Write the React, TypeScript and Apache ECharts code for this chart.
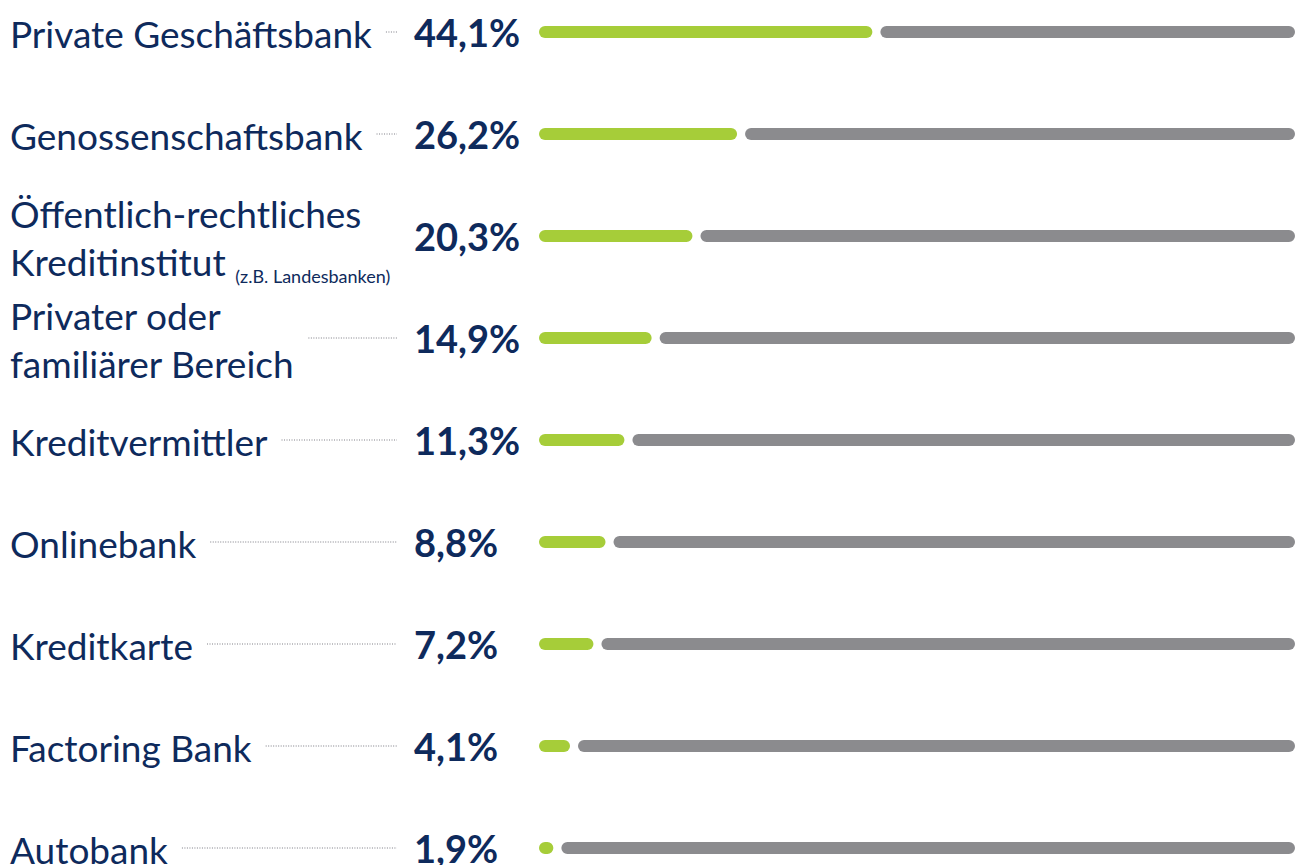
import React, { useEffect, useRef } from "react";
import * as echarts from "echarts";

const categories = [
  "Private Geschäftsbank",
  "Genossenschaftsbank",
  "Öffentlich-rechtliches\nKreditinstitut",
  "Privater oder\nfamiliärer Bereich",
  "Kreditvermittler",
  "Onlinebank",
  "Kreditkarte",
  "Factoring Bank",
  "Autobank",
];
const notes = ["", "", "(z.B. Landesbanken)", "", "", "", "", "", ""];
const values = [44.1, 26.2, 20.3, 14.9, 11.3, 8.8, 7.2, 4.1, 1.9];
const showLeader = [true, true, false, true, true, true, true, true, true];

const NAVY = "#0e2a5c";
const GREEN = "#a6cd39";
const GRAY = "#8b8b8e";
const FONT = "Lato";
const LABEL_SIZE = 37;
const NOTE_SIZE = 18;
const VALUE_SIZE = 38;

function measure(text: string, size: number, weight = "normal"): number {
  const c = document.createElement("canvas");
  const ctx = c.getContext("2d")!;
  ctx.font = `${weight} ${size}px ${FONT}`;
  return ctx.measureText(text).width;
}

export default function App() {
  const ref = useRef<HTMLDivElement>(null);
  useEffect(() => {
    const chart = echarts.init(ref.current!, null, { renderer: "svg" });
    const labelWidths = categories.map((c, i) => {
      const lines = c.split("\n");
      return Math.max(
        ...lines.map((l, j) =>
          measure(l, LABEL_SIZE) +
          (j === lines.length - 1 && notes[i] ? 8 + measure(notes[i], NOTE_SIZE) : 0)
        )
      );
    });
    const fmt = (v: number) => v.toFixed(1).replace(".", ",") + "%";

    chart.setOption({
      animation: false,
      grid: { left: 539, right: 5, top: 32, bottom: 17 },
      xAxis: { type: "value", min: 0, max: 100, show: false },
      yAxis: {
        type: "category",
        data: categories,
        inverse: true,
        boundaryGap: false,
        show: false,
      },
      series: [
        {
          type: "custom",
          clip: false,
          data: values.map((v, i) => [v, i]),
          renderItem: (params: any, api: any) => {
            const v = api.value(0);
            const i = api.value(1);
            const [x0, y] = api.coord([0, i]);
            const xv = api.coord([v, i])[0];
            const x100 = api.coord([100, i])[0];
            const h = 12;
            const gw = Math.max(xv - x0, h);
            const children: any[] = [
              {
                type: "rect",
                shape: { x: x0, y: y - h / 2, width: gw, height: h, r: h / 2 },
                style: { fill: GREEN },
              },
              {
                type: "rect",
                shape: { x: x0 + gw + 8, y: y - h / 2, width: x100 - (x0 + gw + 8), height: h, r: h / 2 },
                style: { fill: GRAY },
              },
            ];
            const lines = categories[i].split("\n");
            const txt = lines
              .map((l, j) => (j === lines.length - 1 && notes[i] ? `${l} {n|${notes[i]}}` : l))
              .join("\n");
            children.push({
              type: "text",
              x: 10,
              y: y + 1,
              style: {
                text: txt,
                fill: NAVY,
                fontFamily: FONT,
                fontSize: LABEL_SIZE,
                lineHeight: 48,
                verticalAlign: "middle",
                align: "left",
                rich: {
                  n: { fontSize: NOTE_SIZE, fontFamily: FONT, fill: NAVY, verticalAlign: "bottom", lineHeight: 46 },
                },
              },
            });
            if (showLeader[i]) {
              const start = 10 + labelWidths[i] + 14;
              children.push({
                type: "line",
                shape: { x1: start, y1: y, x2: 397, y2: y },
                style: { stroke: "#7d7d85", lineWidth: 1.2, lineDash: [1, 1.5] },
              });
            }
            children.push({
              type: "text",
              x: 414,
              y: y,
              style: {
                text: fmt(v),
                fill: NAVY,
                fontFamily: FONT,
                fontSize: VALUE_SIZE,
                fontWeight: "bold",
                verticalAlign: "middle",
                align: "left",
              },
            });
            return { type: "group", children };
          },
        },
      ],
    });
    return () => chart.dispose();
  }, []);
  return (
    <div
      ref={ref}
      style={{ position: "absolute", left: 0, top: 0, width: 1300, height: 865, background: "#fff" }}
    />
  );
}
